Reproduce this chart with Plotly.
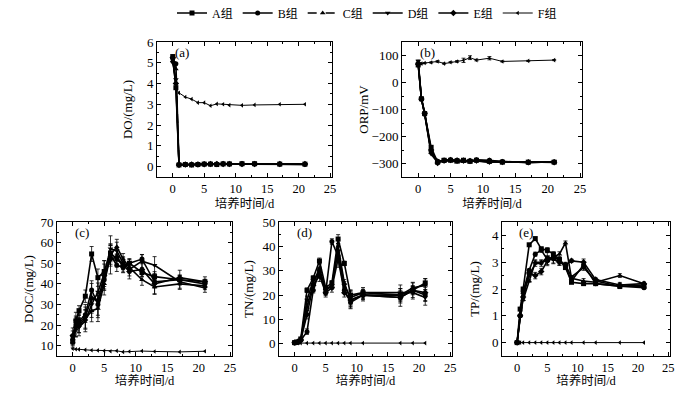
import plotly.graph_objects as go

groups = ["A组", "B组", "C组", "D组", "E组", "F组"]
symbols = ["square", "circle", "triangle-up", "triangle-down", "diamond", "triangle-left"]
dashes = ["solid", "solid", "dash", "solid", "solid", "solid"]

days = [0, 0.5, 1, 2, 3, 4, 5, 6, 7, 8, 9, 11, 13, 17, 21]
days_tn = [0, 0.5, 1, 2, 3, 4, 5, 6, 7, 8, 9, 11, 17, 19, 21]

# (a) DO
do_A = [5.3, 3.8, 0.08, 0.1, 0.08, 0.1, 0.12, 0.12, 0.1, 0.13, 0.13, 0.14, 0.14, 0.12, 0.12]
do_B = [5.2, 4.95, 0.1, 0.1, 0.1, 0.11, 0.12, 0.13, 0.12, 0.14, 0.13, 0.13, 0.13, 0.12, 0.11]
do_C = [5.1, 4.7, 0.09, 0.1, 0.09, 0.1, 0.11, 0.12, 0.11, 0.12, 0.12, 0.13, 0.13, 0.12, 0.12]
do_D = [5.0, 4.2, 0.1, 0.09, 0.1, 0.11, 0.12, 0.11, 0.12, 0.13, 0.12, 0.12, 0.12, 0.11, 0.11]
do_E = [5.25, 4.0, 0.08, 0.1, 0.1, 0.1, 0.11, 0.12, 0.12, 0.12, 0.13, 0.13, 0.12, 0.12, 0.12]
do_F = [5.1, 3.75, 3.55, 3.35, 3.25, 3.08, 3.08, 2.93, 3.02, 3.0, 2.96, 2.95, 2.97, 3.0, 3.0]

# (b) ORP
orp_A = [65, -60, -115, -240, -295, -288, -288, -290, -288, -292, -288, -292, -295, -295, -295]
orp_B = [70, -62, -118, -255, -292, -290, -286, -288, -290, -290, -286, -288, -293, -296, -294]
orp_C = [75, -58, -112, -260, -290, -292, -290, -295, -292, -294, -290, -294, -295, -294, -296]
orp_D = [80, -60, -116, -265, -296, -286, -289, -292, -291, -288, -291, -296, -292, -297, -293]
orp_E = [68, -61, -114, -250, -298, -289, -287, -289, -289, -291, -289, -290, -294, -295, -295]
orp_F = [75, 70, 72, 74, 78, 70, 75, 78, 82, 92, 83, 90, 78, 80, 83]
orp_F_err = [8, 2, 2, 2, 3, 2, 2, 3, 8, 7, 3, 6, 2, 2, 2]

# (c) DOC
doc_A = [12, 22, 27, 34, 54.5, 43, 46, 55, 52, 49, 50, 45.5, 43.5, 42, 41]
doc_B = [13, 20, 22, 25, 37, 30, 42, 54, 49, 48, 50, 52, 41, 42, 40]
doc_C = [12, 18, 20, 23, 27, 28, 40, 54, 58, 52, 48, 42, 38.5, 40, 39]
doc_D = [14, 22, 19, 22, 30, 36, 45, 57, 56, 50, 47, 51, 49, 41, 38]
doc_E = [15, 19, 21, 24, 33, 32, 44, 52, 53, 49, 46, 47, 40, 43, 41]
doc_F = [8.5, 8.3, 8.2, 8.0, 7.8, 7.7, 7.5, 7.3, 7.5, 7.0, 7.2, 7.4, 7.2, 7.0, 7.3]
doc_err = [3, 4, 4, 5, 6, 7, 6, 6, 4, 3, 3, 3, 4, 3, 2]

# (d) TN
tn_A = [0.5, 0.8, 2, 22, 27, 34, 23, 25, 43, 33, 20, 21, 20, 22, 25]
tn_B = [0.3, 0.5, 1.5, 5, 22, 30, 21, 42, 36, 22, 17, 20, 19, 22, 20]
tn_C = [0.4, 0.5, 1.8, 15, 25, 31, 22, 24, 40, 25, 18, 20, 20, 23, 24]
tn_D = [0.5, 0.7, 1.5, 18, 26, 29, 22, 24, 38, 24, 19, 21, 21, 21, 19]
tn_E = [0.5, 0.8, 1.6, 12, 24, 28, 21, 23, 35, 21, 18, 20, 19, 22, 21]
tn_F = [0.3, 0.3, 0.3, 0.3, 0.3, 0.3, 0.3, 0.3, 0.3, 0.3, 0.3, 0.3, 0.3, 0.3, 0.3]
tn_err = [0.3, 0.4, 0.5, 1.5, 1.5, 2, 1.5, 1.5, 3, 1.5, 3, 2, 3, 2.5, 3]

# (e) TP
tp_A = [0, 1.25, 2.0, 3.65, 3.88, 3.5, 3.45, 3.3, 3.1, 2.8, 2.25, 2.2, 2.2, 2.1, 2.1]
tp_B = [0, 1.0, 1.9, 2.7, 3.3, 3.45, 3.1, 3.2, 3.1, 2.85, 2.3, 2.9, 2.2, 2.1, 2.05]
tp_C = [0, 1.0, 1.6, 2.3, 3.0, 3.0, 3.05, 3.2, 3.3, 3.72, 2.4, 2.3, 2.25, 2.5, 2.2]
tp_D = [0, 1.0, 1.8, 2.5, 2.95, 2.95, 3.2, 3.1, 3.0, 2.9, 2.45, 2.8, 2.3, 2.1, 2.15]
tp_E = [0, 1.0, 1.7, 2.6, 2.5, 2.65, 3.05, 3.15, 3.0, 2.9, 3.05, 3.0, 2.35, 2.15, 2.2]
tp_F = [0, 0, 0, 0, 0, 0, 0, 0, 0, 0, 0, 0, 0, 0, 0]
tp_err = [0, 0.05, 0.05, 0.05, 0.1, 0.1, 0.15, 0.15, 0.1, 0.08, 0.05, 0.1, 0.05, 0.08, 0.05]

panel_labels = ["(a)", "(b)", "(c)", "(d)", "(e)"]
y_titles = ["DO/(mg/L)", "ORP/mV", "DOC/(mg/L)", "TN/(mg/L)", "TP/(mg/L)"]
x_title = "培养时间/d"
y_ranges = [[-0.5, 6], [-350, 150], [5, 70], [-5, 50], [-0.5, 4.5]]
y_dticks = [1, 100, 10, 10, 1]
y_standoffs = [11, 0, 3, 5, 9]

# The page body has an 8px margin; size the figure so the page fits the window exactly.
OFF = 8
W, H = 695 - 2 * OFF, 396 - 2 * OFF
# target pixel boxes in the window: (left, right, top, bottom)
boxes = [(157, 332, 42, 177), (402, 582, 42, 177),
         (57, 232, 222, 356), (279, 452, 222, 356), (502, 670, 222, 356)]

FONT = "Liberation Serif, Times New Roman, Noto Sans CJK SC, serif"

panels = [
    (days, [do_A, do_B, do_C, do_D, do_E, do_F], None, None),
    (days, [orp_A, orp_B, orp_C, orp_D, orp_E, orp_F], None, orp_F_err),
    (days, [doc_A, doc_B, doc_C, doc_D, doc_E, doc_F], doc_err, None),
    (days_tn, [tn_A, tn_B, tn_C, tn_D, tn_E, tn_F], tn_err, None),
    (days, [tp_A, tp_B, tp_C, tp_D, tp_E, tp_F], tp_err, None),
]

fig = go.Figure()
for p, (xs, series, err, ferr) in enumerate(panels):
    xa = "x" if p == 0 else f"x{p+1}"
    ya = "y" if p == 0 else f"y{p+1}"
    for g, ys in enumerate(series):
        e = None
        if g < 5 and err is not None:
            e = dict(type="data", array=[v * (0.6 + 0.15 * g) for v in err],
                     color="black", thickness=0.8, width=2)
        if g == 5 and ferr is not None:
            e = dict(type="data", array=ferr, color="black", thickness=0.8, width=2)
        fig.add_trace(go.Scatter(
            x=xs, y=ys, mode="lines+markers", name=groups[g],
            xaxis=xa, yaxis=ya, showlegend=(p == 0),
            line=dict(color="black", width=1.6 if g < 5 else 1,
                      dash=dashes[g] if p == 0 else "solid"),
            marker=dict(symbol=symbols[g], size=5 if g < 5 else 4, color="black"),
            error_y=e,
        ))

layout = dict(
    width=W, height=H, margin=dict(l=0, r=0, t=0, b=0, autoexpand=False),
    paper_bgcolor="white", plot_bgcolor="white",
    font=dict(family=FONT, size=13, color="black"),
    legend=dict(orientation="h", x=(367 - OFF) / W, xanchor="center",
                y=1 - (13 - OFF) / H, yanchor="middle",
                font=dict(size=12), itemwidth=30, tracegroupgap=0,
                bgcolor="rgba(0,0,0,0)"),
    showlegend=True,
)
annotations = []
for p, (l, r, t, b) in enumerate(boxes):
    l, r, t, b = l - OFF, r - OFF, t - OFF, b - OFF
    xk = "xaxis" if p == 0 else f"xaxis{p+1}"
    yk = "yaxis" if p == 0 else f"yaxis{p+1}"
    ya = "y" if p == 0 else f"y{p+1}"
    xa = "x" if p == 0 else f"x{p+1}"
    common = dict(showline=True, linecolor="black", linewidth=1, mirror="allticks",
                  ticks="inside", ticklen=4, tickcolor="black", showgrid=False,
                  zeroline=False, automargin=False)
    layout[xk] = dict(domain=[l / W, r / W], anchor=ya, range=[-2.5, 25.3],
                      tick0=0, dtick=5, tickfont=dict(size=12.5, family=FONT),
                      minor=dict(ticks="inside", ticklen=2, dtick=2.5, tick0=0, tickcolor="black"),
                      title=dict(text=x_title, standoff=4, font=dict(size=12.5, family=FONT)),
                      **common)
    layout[yk] = dict(domain=[1 - b / H, 1 - t / H], anchor=xa, range=y_ranges[p],
                      tick0=0, dtick=y_dticks[p], tickfont=dict(size=13, family=FONT),
                      minor=dict(ticks="inside", ticklen=2, dtick=y_dticks[p] / 2, tickcolor="black"),
                      title=dict(text=y_titles[p], standoff=y_standoffs[p],
                                 font=dict(size=13, family=FONT)),
                      **common)
    annotations.append(dict(text=panel_labels[p], xref=f"{xa} domain", yref=f"{ya} domain",
                            x=0.09, y=0.99, xanchor="left", yanchor="top", showarrow=False,
                            font=dict(size=13, family=FONT)))
layout["annotations"] = annotations
fig.update_layout(**layout)
fig.write_html("out.html")
